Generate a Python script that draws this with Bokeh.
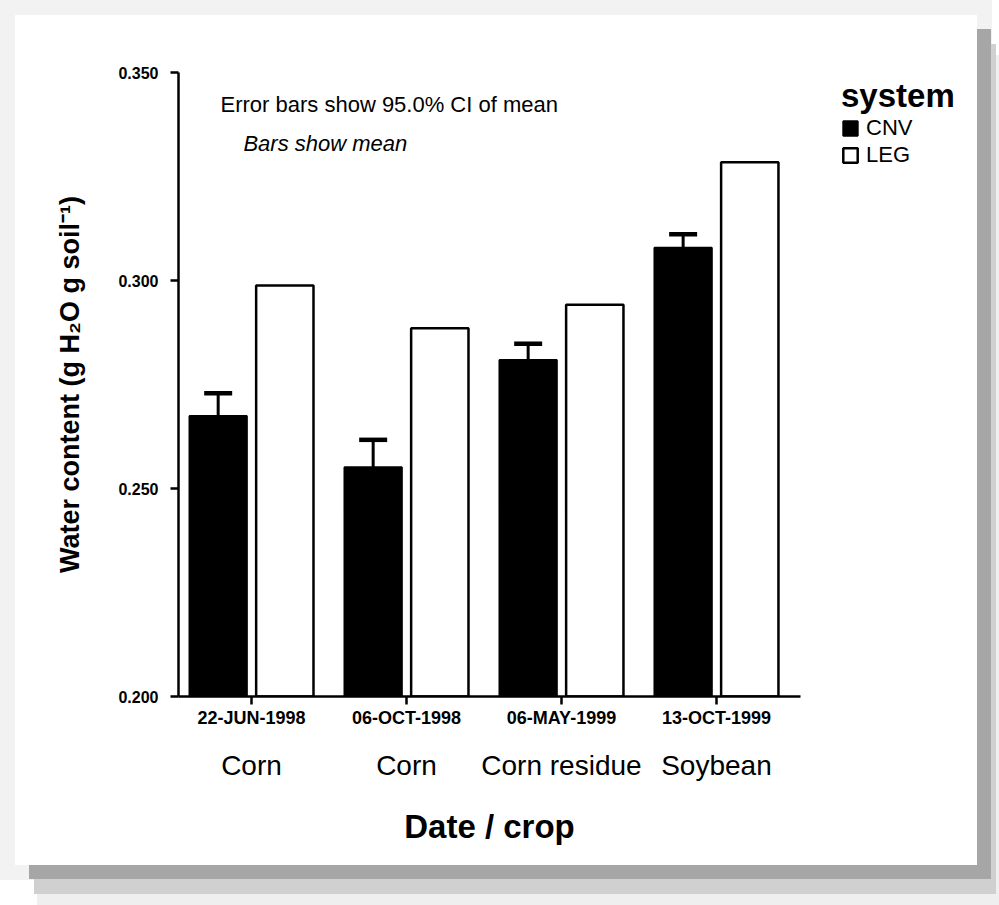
from bokeh.plotting import figure
from bokeh.models import (Range1d, FixedTicker, LinearAxis, Whisker, ColumnDataSource,
                          Legend, LegendItem, Label, PrintfTickFormatter, TeeHead)
from bokeh.embed import file_html
from bokeh.resources import INLINE

# ---------------- data ----------------
dates = ["22-JUN-1998", "06-OCT-1998", "06-MAY-1999", "13-OCT-1999"]
crops = ["Corn", "Corn", "Corn residue", "Soybean"]
cnv_mean = [0.2674, 0.2551, 0.2809, 0.3079]
cnv_upper = [0.2729, 0.2617, 0.2848, 0.3111]
leg_mean = [0.2988, 0.2885, 0.2942, 0.3284]
y_ticks = [0.200, 0.250, 0.300, 0.350]
x_title = "Date / crop"

FONT = "Liberation Sans"
W, H = 962, 850

idx = list(range(len(dates)))
off = 0.215
bw = 0.37
cnv_x = [i - off for i in idx]
leg_x = [i + off for i in idx]
cnv_lower = [m - (u - m) for m, u in zip(cnv_mean, cnv_upper)]

X0, X1 = -0.471, 3.542      # extent of the drawn x axis
XEND = 4.652                # frame extends further right to hold the legend
XMID = (X0 + X1) / 2

p = figure(width=W, height=H, output_backend="svg", toolbar_location=None,
           x_range=Range1d(X0, XEND), y_range=Range1d(0.2, 0.35),
           min_border_left=163, min_border_right=5, min_border_top=57, min_border_bottom=169,
           x_axis_location=None, y_axis_location=None)
p.margin = (15, 0, 0, 15)
p.styles = {"box-shadow": "14px 14px 0 0 #a6a6a6, 19px 29px 0 0 #d0d0d0, "
                          "22px 40px 0 0 #efefef, 0 0 0 15px #f2f2f2"}
p.border_fill_color = "white"
p.background_fill_color = "white"
p.outline_line_color = None
p.xgrid.visible = False
p.ygrid.visible = False

src_c = ColumnDataSource(dict(x=cnv_x, top=cnv_mean, up=cnv_upper, lo=cnv_lower))
src_l = ColumnDataSource(dict(x=leg_x, top=leg_mean))

r_cnv = p.vbar(x="x", top="top", bottom=0.2, width=bw, source=src_c,
               fill_color="black", line_color="black", line_width=2)
r_leg = p.vbar(x="x", top="top", bottom=0.2, width=bw, source=src_l,
               fill_color="white", line_color="black", line_width=2.5)

wh = Whisker(base="x", upper="up", lower="lo", source=src_c, line_width=3, line_color="black",
             upper_head=TeeHead(size=28, line_width=4.5, line_color="black"),
             lower_head=None)
p.add_layout(wh)

# y axis
yax = LinearAxis(ticker=FixedTicker(ticks=y_ticks), formatter=PrintfTickFormatter(format="%.3f"))
yax.axis_label = "Water content (g H\u2082O g soil\u207b\u00b9)"
yax.axis_label_text_font = FONT
yax.axis_label_text_font_size = "27px"
yax.axis_label_text_font_style = "bold"
yax.axis_label_text_color = "black"
yax.axis_label_standoff = 30
yax.major_label_text_font = FONT
yax.major_label_text_font_size = "16px"
yax.major_label_text_font_style = "bold"
yax.major_label_text_color = "black"
yax.major_label_standoff = 12
yax.axis_line_width = 2.5
yax.major_tick_line_width = 2.5
yax.major_tick_out = 8
yax.major_tick_in = 0
yax.minor_tick_line_color = None
p.add_layout(yax, "left")

# x axis (dates)
xax = LinearAxis(ticker=FixedTicker(ticks=idx), bounds=(X0, X1),
                 major_label_overrides={i: d for i, d in zip(idx, dates)})
xax.major_label_text_font = FONT
xax.major_label_text_font_size = "18px"
xax.major_label_text_font_style = "bold"
xax.major_label_text_color = "black"
xax.major_label_standoff = 3
xax.axis_line_width = 2.5
xax.major_tick_line_width = 2.5
xax.major_tick_out = 8
xax.major_tick_in = 0
xax.minor_tick_line_color = None
p.add_layout(xax, "below")

# second x axis (crop names)
xax2 = LinearAxis(ticker=FixedTicker(ticks=idx), bounds=(X0, X1),
                  major_label_overrides={i: c for i, c in zip(idx, crops)})
xax2.major_label_text_font = FONT
xax2.major_label_text_font_size = "28px"
xax2.major_label_text_color = "black"
xax2.major_label_standoff = 13
xax2.axis_line_color = None
xax2.major_tick_line_color = None
xax2.minor_tick_line_color = None
p.add_layout(xax2, "below")

# third x axis: the x title, centred under the drawn axis
xax3 = LinearAxis(ticker=FixedTicker(ticks=[XMID]), bounds=(X0, X1),
                  major_label_overrides={XMID: x_title})
xax3.major_label_text_font = FONT
xax3.major_label_text_font_size = "33px"
xax3.major_label_text_font_style = "bold"
xax3.major_label_text_color = "black"
xax3.major_label_standoff = 18
xax3.axis_line_color = None
xax3.major_tick_line_color = None
xax3.minor_tick_line_color = None
p.add_layout(xax3, "below")

# notes
p.add_layout(Label(x=-0.2, y=0.3423, text="Error bars show 95.0% CI of mean",
                   text_font=FONT, text_font_size="22px", text_baseline="middle",
                   text_color="black"))
p.add_layout(Label(x=-0.052, y=0.3329, text="Bars show mean",
                   text_font=FONT, text_font_size="22px", text_font_style="italic",
                   text_baseline="middle", text_color="black"))

# legend
legend = Legend(items=[LegendItem(label="CNV", renderers=[r_cnv]),
                       LegendItem(label="LEG", renderers=[r_leg])],
                location=(663, 528), title="system")
legend.title_text_font = FONT
legend.title_text_font_size = "33px"
legend.title_text_font_style = "bold"
legend.title_text_color = "black"
legend.title_standoff = 0
legend.label_text_font = FONT
legend.label_text_font_size = "22px"
legend.label_text_color = "black"
legend.glyph_width = 18
legend.glyph_height = 18
legend.label_standoff = 7
legend.label_height = 18
legend.spacing = 1
legend.padding = 0
legend.margin = 0
legend.border_line_color = None
legend.background_fill_alpha = 0
p.add_layout(legend, "center")

open("out.html", "w").write(file_html(p, INLINE))
